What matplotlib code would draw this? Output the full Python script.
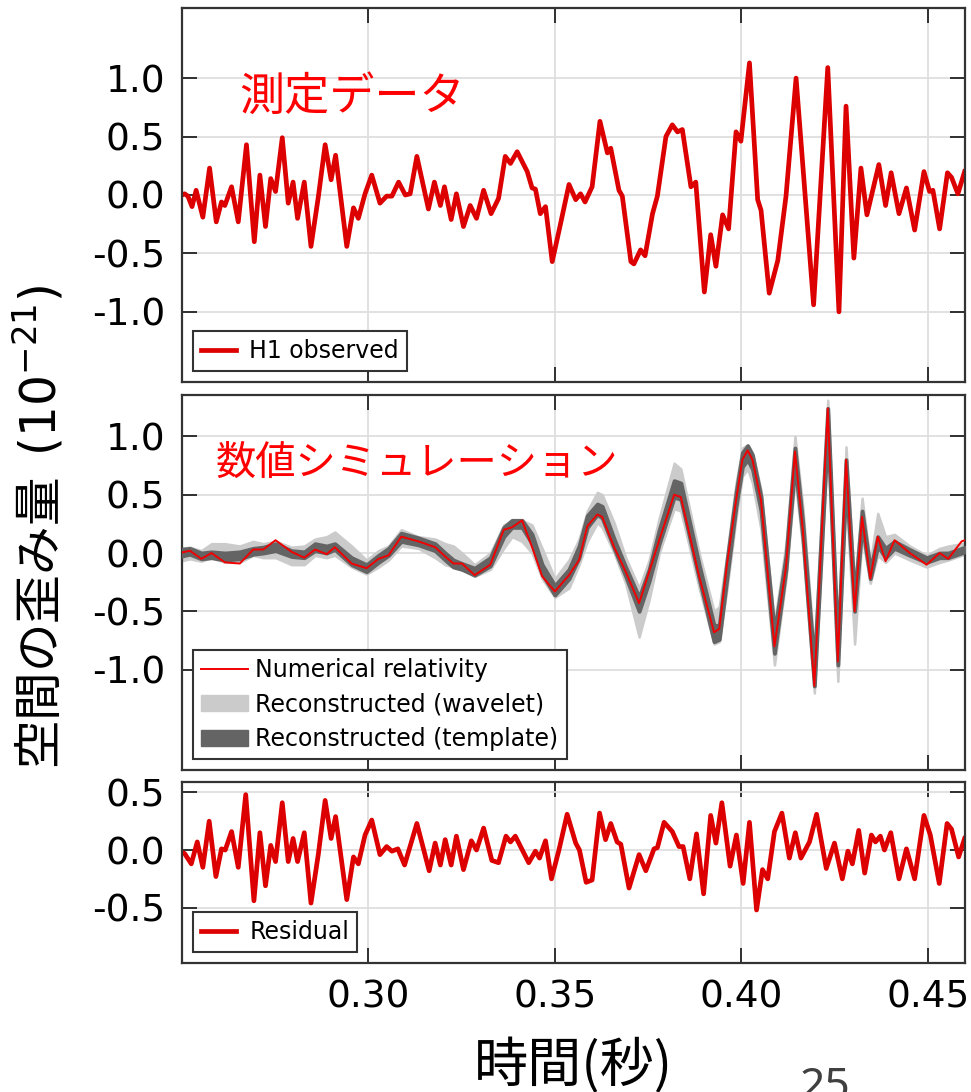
import matplotlib
matplotlib.use("Agg")
import matplotlib.pyplot as plt
from matplotlib.patches import Patch
from matplotlib.lines import Line2D

plt.rcParams['font.family'] = ['DejaVu Sans', 'Noto Sans CJK JP']
plt.rcParams['axes.unicode_minus'] = False
plt.rcParams['mathtext.fontset'] = 'dejavusans'
JP = ['Noto Sans CJK JP', 'DejaVu Sans']

# H1 observed strain (1e-21) vs time (s)
h1_t = [0.2494, 0.2507, 0.2516, 0.2527, 0.2538, 0.2556, 0.2574, 0.2592, 0.2606, 0.2615,
        0.2633, 0.2651, 0.2673, 0.2694, 0.2709, 0.2724, 0.2738, 0.2751, 0.2769, 0.2785,
        0.2798, 0.2810, 0.2828, 0.2846, 0.2866, 0.2884, 0.2900, 0.2912, 0.2942, 0.2960,
        0.2973, 0.2991, 0.3009, 0.3031, 0.3049, 0.3063, 0.3081, 0.3099, 0.3112, 0.3130,
        0.3161, 0.3177, 0.3193, 0.3204, 0.3222, 0.3236, 0.3255, 0.3273, 0.3290, 0.3309,
        0.3329, 0.3349, 0.3367, 0.3381, 0.3399, 0.3426, 0.3439, 0.3448, 0.3461, 0.3475,
        0.3493, 0.3513, 0.3538, 0.3556, 0.3569, 0.3581, 0.3600, 0.3621, 0.3641, 0.3650,
        0.3672, 0.3681, 0.3704, 0.3712, 0.3730, 0.3742, 0.3762, 0.3775, 0.3798, 0.3815,
        0.3829, 0.3842, 0.3865, 0.3878, 0.3901, 0.3918, 0.3932, 0.3950, 0.3966, 0.3986,
        0.3999, 0.4022, 0.4044, 0.4053, 0.4075, 0.4098, 0.4120, 0.4147, 0.4194, 0.4232,
        0.4262, 0.4281, 0.4302, 0.4321, 0.4337, 0.4369, 0.4387, 0.4402, 0.4423, 0.4443,
        0.4465, 0.4490, 0.4505, 0.4514, 0.4532, 0.4553, 0.4564, 0.4581, 0.4599]
h1_v = [-0.01, 0.01, -0.01, -0.10, 0.04, -0.19, 0.23, -0.23, -0.06, -0.09,
        0.07, -0.23, 0.43, -0.40, 0.17, -0.27, 0.14, 0.03, 0.49, -0.07,
        0.11, -0.20, 0.11, -0.44, -0.01, 0.43, 0.13, 0.34, -0.44, -0.11,
        -0.20, 0.01, 0.17, -0.07, -0.01, -0.01, 0.11, 0.00, 0.01, 0.33,
        -0.12, 0.11, -0.09, 0.07, -0.21, 0.01, -0.27, -0.09, -0.20, 0.04,
        -0.16, -0.03, 0.33, 0.27, 0.37, 0.20, 0.06, 0.05, -0.16, -0.10,
        -0.57, -0.28, 0.09, -0.04, 0.01, -0.06, 0.07, 0.63, 0.36, 0.40,
        0.04, -0.01, -0.57, -0.59, -0.47, -0.52, -0.16, -0.01, 0.50, 0.60,
        0.54, 0.56, 0.07, 0.11, -0.83, -0.34, -0.61, -0.17, -0.29, 0.54,
        0.46, 1.13, -0.04, -0.13, -0.84, -0.56, -0.01, 1.00, -0.94, 1.09,
        -1.00, 0.76, -0.54, 0.23, -0.17, 0.26, -0.09, 0.19, -0.16, 0.06,
        -0.30, 0.20, 0.03, 0.04, -0.29, 0.19, 0.15, 0.01, 0.20]

# numerical relativity waveform and reconstruction bands
nr_t = [0.2494, 0.2521, 0.2552, 0.2579, 0.2615, 0.2655, 0.2691, 0.2718, 0.2751, 0.2794,
        0.2828, 0.2857, 0.2888, 0.2910, 0.2955, 0.2995, 0.3027, 0.3054, 0.3088, 0.3134,
        0.3179, 0.3206, 0.3228, 0.3251, 0.3285, 0.3327, 0.3363, 0.3385, 0.3412, 0.3439,
        0.3466, 0.3500, 0.3538, 0.3565, 0.3587, 0.3614, 0.3627, 0.3659, 0.3690, 0.3726,
        0.3753, 0.3780, 0.3820, 0.3838, 0.3887, 0.3927, 0.3941, 0.3962, 0.3986, 0.4003,
        0.4017, 0.4030, 0.4053, 0.4089, 0.4120, 0.4144, 0.4165, 0.4196, 0.4232, 0.4259,
        0.4281, 0.4304, 0.4324, 0.4346, 0.4366, 0.4387, 0.4411, 0.4452, 0.4497, 0.4532,
        0.4555, 0.4591, 0.4600]
nr_v = [0.00, 0.02, -0.05, 0.00, -0.08, -0.09, 0.03, 0.03, 0.11, 0.01,
        -0.04, 0.03, -0.01, 0.05, -0.09, -0.13, -0.05, -0.02, 0.14, 0.10,
        0.05, -0.03, -0.09, -0.09, -0.19, -0.10, 0.20, 0.22, 0.28, 0.05,
        -0.20, -0.33, -0.19, -0.06, 0.23, 0.33, 0.31, 0.05, -0.16, -0.43,
        -0.16, 0.11, 0.50, 0.48, -0.20, -0.68, -0.65, -0.09, 0.45, 0.80,
        0.88, 0.80, 0.45, -0.80, -0.12, 0.87, 0.20, -1.14, 1.24, -0.93,
        0.80, -0.50, 0.31, -0.22, 0.14, -0.07, 0.11, 0.00, -0.10, 0.00,
        -0.05, 0.10, 0.11]
tmpl_lo = [-0.03, -0.01, -0.05, -0.04, -0.06, -0.05, -0.01, 0.00, 0.02, -0.03,
           -0.04, 0.02, 0.00, 0.03, -0.10, -0.16, -0.08, -0.02, 0.10, 0.07,
           0.02, -0.06, -0.12, -0.14, -0.19, -0.11, 0.14, 0.22, 0.22, 0.08,
           -0.18, -0.36, -0.22, -0.04, 0.22, 0.33, 0.30, 0.04, -0.20, -0.50,
           -0.24, 0.08, 0.48, 0.46, -0.22, -0.76, -0.74, -0.20, 0.40, 0.74,
           0.80, 0.72, 0.36, -0.86, -0.14, 0.76, 0.14, -1.14, 1.06, -0.96,
           0.62, -0.50, 0.24, -0.22, 0.06, -0.04, 0.04, -0.02, -0.08, -0.04,
           -0.04, 0.00, 0.01]
tmpl_hi = [0.03, 0.04, 0.00, 0.01, 0.00, 0.01, 0.04, 0.05, 0.08, 0.02,
           0.01, 0.08, 0.06, 0.08, -0.04, -0.10, -0.02, 0.04, 0.17, 0.13,
           0.08, 0.00, -0.06, -0.09, -0.13, -0.04, 0.22, 0.28, 0.28, 0.16,
           -0.10, -0.28, -0.14, 0.06, 0.32, 0.42, 0.40, 0.12, -0.12, -0.38,
           -0.14, 0.20, 0.62, 0.60, -0.10, -0.62, -0.62, -0.06, 0.52, 0.86,
           0.92, 0.84, 0.48, -0.68, -0.02, 0.90, 0.26, -0.96, 1.24, -0.80,
           0.80, -0.38, 0.36, -0.14, 0.14, 0.04, 0.10, 0.03, -0.04, 0.00,
           0.00, 0.04, 0.05]
wave_lo = [-0.07, -0.05, -0.07, -0.04, -0.08, -0.08, -0.02, -0.04, -0.04, -0.10,
           -0.10, -0.02, -0.04, -0.02, -0.12, -0.18, -0.12, -0.06, 0.06, 0.04,
           -0.04, -0.10, -0.12, -0.14, -0.20, -0.14, 0.04, 0.14, 0.10, 0.00,
           -0.22, -0.38, -0.30, -0.10, 0.10, 0.26, 0.22, 0.00, -0.26, -0.72,
           -0.40, 0.00, 0.38, 0.36, -0.30, -0.78, -0.76, -0.30, 0.30, 0.66,
           0.72, 0.60, 0.20, -0.96, -0.22, 0.64, 0.04, -1.20, 0.96, -1.10,
           0.50, -0.78, 0.14, -0.26, -0.02, -0.08, 0.00, -0.06, -0.12, -0.08,
           -0.06, -0.02, -0.01]
wave_hi = [0.04, 0.05, 0.02, 0.08, 0.08, 0.06, 0.10, 0.08, 0.10, 0.05,
           0.06, 0.12, 0.14, 0.18, 0.06, -0.06, 0.02, 0.06, 0.20, 0.14,
           0.12, 0.08, 0.06, 0.00, -0.10, 0.00, 0.24, 0.28, 0.28, 0.24,
           0.04, -0.22, -0.06, 0.12, 0.36, 0.52, 0.50, 0.26, -0.04, -0.30,
           -0.06, 0.30, 0.77, 0.72, 0.00, -0.50, -0.46, 0.00, 0.60, 0.90,
           0.93, 0.86, 0.54, -0.60, 0.08, 1.00, 0.40, -0.84, 1.31, -0.70,
           0.91, -0.28, 0.47, -0.08, 0.34, 0.14, 0.16, 0.06, -0.02, 0.04,
           0.06, 0.08, 0.09]

# residual
res_t = [0.2494, 0.2507, 0.2525, 0.2541, 0.2556, 0.2573, 0.2591, 0.2606, 0.2616, 0.2633,
         0.2651, 0.2671, 0.2693, 0.2709, 0.2724, 0.2738, 0.2751, 0.2769, 0.2785, 0.2798,
         0.2810, 0.2828, 0.2846, 0.2866, 0.2884, 0.2900, 0.2912, 0.2942, 0.2960, 0.2973,
         0.2991, 0.3009, 0.3031, 0.3049, 0.3063, 0.3079, 0.3097, 0.3130, 0.3163, 0.3179,
         0.3193, 0.3206, 0.3222, 0.3236, 0.3255, 0.3276, 0.3290, 0.3309, 0.3331, 0.3349,
         0.3369, 0.3381, 0.3394, 0.3430, 0.3448, 0.3459, 0.3475, 0.3491, 0.3511, 0.3533,
         0.3556, 0.3566, 0.3584, 0.3600, 0.3620, 0.3636, 0.3650, 0.3667, 0.3677, 0.3699,
         0.3726, 0.3744, 0.3766, 0.3775, 0.3793, 0.3815, 0.3833, 0.3844, 0.3862, 0.3880,
         0.3899, 0.3918, 0.3932, 0.3948, 0.3970, 0.3987, 0.4005, 0.4022, 0.4041, 0.4057,
         0.4071, 0.4089, 0.4109, 0.4129, 0.4145, 0.4160, 0.4183, 0.4202, 0.4228, 0.4250,
         0.4271, 0.4286, 0.4298, 0.4315, 0.4331, 0.4349, 0.4360, 0.4373, 0.4384, 0.4401,
         0.4423, 0.4443, 0.4465, 0.4490, 0.4507, 0.4531, 0.4552, 0.4564, 0.4583, 0.4599]
res_v = [-0.01, -0.03, -0.12, 0.07, -0.15, 0.25, -0.23, 0.01, 0.00, 0.16,
         -0.15, 0.48, -0.44, 0.15, -0.31, 0.04, -0.10, 0.41, -0.10, 0.10,
         -0.10, 0.15, -0.46, -0.03, 0.43, 0.10, 0.29, -0.43, -0.06, -0.12,
         0.13, 0.26, -0.04, 0.03, -0.01, 0.01, -0.13, 0.23, -0.18, 0.06,
         -0.13, 0.09, -0.13, 0.12, -0.17, 0.08, 0.00, 0.19, -0.09, -0.11,
         0.12, 0.07, 0.12, -0.11, -0.01, -0.07, 0.08, -0.25, 0.00, 0.31,
         0.06, 0.00, -0.28, -0.26, 0.32, 0.09, 0.23, 0.07, 0.05, -0.33,
         -0.04, -0.18, 0.01, 0.02, 0.24, 0.16, 0.03, 0.03, -0.25, 0.14,
         -0.38, 0.30, 0.06, 0.41, -0.14, 0.13, -0.29, 0.24, -0.52, -0.17,
         -0.25, 0.16, 0.32, -0.07, 0.15, -0.07, 0.07, 0.31, -0.16, 0.06,
         -0.25, -0.01, -0.12, 0.17, -0.20, 0.13, 0.07, 0.12, 0.00, 0.15,
         -0.25, 0.01, -0.25, 0.30, 0.13, -0.29, 0.23, 0.18, -0.06, 0.10]

xticks = [0.30, 0.35, 0.40, 0.45]
xticklabels = ['0.30', '0.35', '0.40', '0.45']

RED = '#dc0000'
NR_RED = '#f00000'
LIGHT = '#cbcbcb'
DARK = '#646464'

fig = plt.figure(figsize=(9.71, 10.92), dpi=100)
ax1 = fig.add_axes([0.1874, 0.6502, 0.8064, 0.3425])
ax2 = fig.add_axes([0.1874, 0.2949, 0.8064, 0.3434])
ax3 = fig.add_axes([0.1874, 0.1181, 0.8064, 0.1658])


def style(ax, ylim, yticks, xlabels=False):
    ax.set_xlim(0.25, 0.46)
    ax.set_ylim(*ylim)
    ax.set_xticks(xticks)
    ax.set_yticks(yticks)
    ax.set_yticklabels(['%.1f' % v for v in yticks])
    if xlabels:
        ax.set_xticklabels(xticklabels)
    else:
        ax.set_xticklabels([])
    ax.grid(True, color='#dedede', lw=1.3)
    ax.set_axisbelow(True)
    ax.tick_params(direction='in', length=11, width=1.3, top=True, right=True,
                   labelsize=27, pad=12, color='#222222')
    for s in ax.spines.values():
        s.set_color('#333333')
        s.set_linewidth(1.6)


def frame(leg):
    leg.get_frame().set_linewidth(1.5)
    leg.get_frame().set_edgecolor('#333333')


# top: observed data
ax1.plot(h1_t, h1_v, color=RED, lw=3.4, solid_joinstyle='round', label='H1 observed')
style(ax1, (-1.6, 1.6), [-1.0, -0.5, 0.0, 0.5, 1.0])
ax1.text(0.2653, 0.73, '測定データ', color='#ff0000', fontsize=32.5, family=JP,
         va='baseline', ha='left')
leg = ax1.legend(loc='lower left', fontsize=17, fancybox=False, framealpha=1,
                 borderaxespad=0.45, handlelength=1.5, handletextpad=0.55, borderpad=0.35)
frame(leg)

# middle: numerical relativity and reconstructions
ax2.fill_between(nr_t, wave_lo, wave_hi, color=LIGHT, lw=1.8, zorder=2)
ax2.fill_between(nr_t, tmpl_lo, tmpl_hi, color=DARK, lw=2.8, zorder=3)
ax2.plot(nr_t, nr_v, color=NR_RED, lw=1.4, zorder=4)
style(ax2, (-1.86, 1.355), [-1.0, -0.5, 0.0, 0.5, 1.0])
ax2.text(0.2591, 0.67, '数値シミュレーション', color='#ff0000', fontsize=29, family=JP,
         va='baseline', ha='left')
handles = [Line2D([], [], color=NR_RED, lw=1.4),
           Patch(color=LIGHT), Patch(color=DARK)]
labels = ['Numerical relativity', 'Reconstructed (wavelet)', 'Reconstructed (template)']
leg = ax2.legend(handles, labels, loc='lower left', fontsize=17, fancybox=False,
                 framealpha=1, borderaxespad=0.45, handlelength=2.0,
                 handletextpad=0.3, borderpad=0.35, labelspacing=0.45)
frame(leg)

# bottom: residual
ax3.plot(res_t, res_v, color=RED, lw=3.4, solid_joinstyle='round', label='Residual')
style(ax3, (-0.98, 0.59), [-0.5, 0.0, 0.5], xlabels=True)
leg = ax3.legend(loc='lower left', fontsize=17, fancybox=False, framealpha=1,
                 borderaxespad=0.45, handlelength=1.5, handletextpad=0.55, borderpad=0.35)
frame(leg)

fig.text(0.041, 0.518, '空間の歪み量  $(10^{-21})$', rotation=90, ha='center',
         va='center', fontsize=35, family=JP)
fig.text(0.591, 0.009, '時間(秒)', ha='center', va='baseline', fontsize=39, family=JP)
fig.text(0.824, -0.006, '25', ha='left', va='baseline', fontsize=32,
         family=['Noto Sans', 'DejaVu Sans'], color='#404040')

fig.savefig('out.png', dpi=100)
